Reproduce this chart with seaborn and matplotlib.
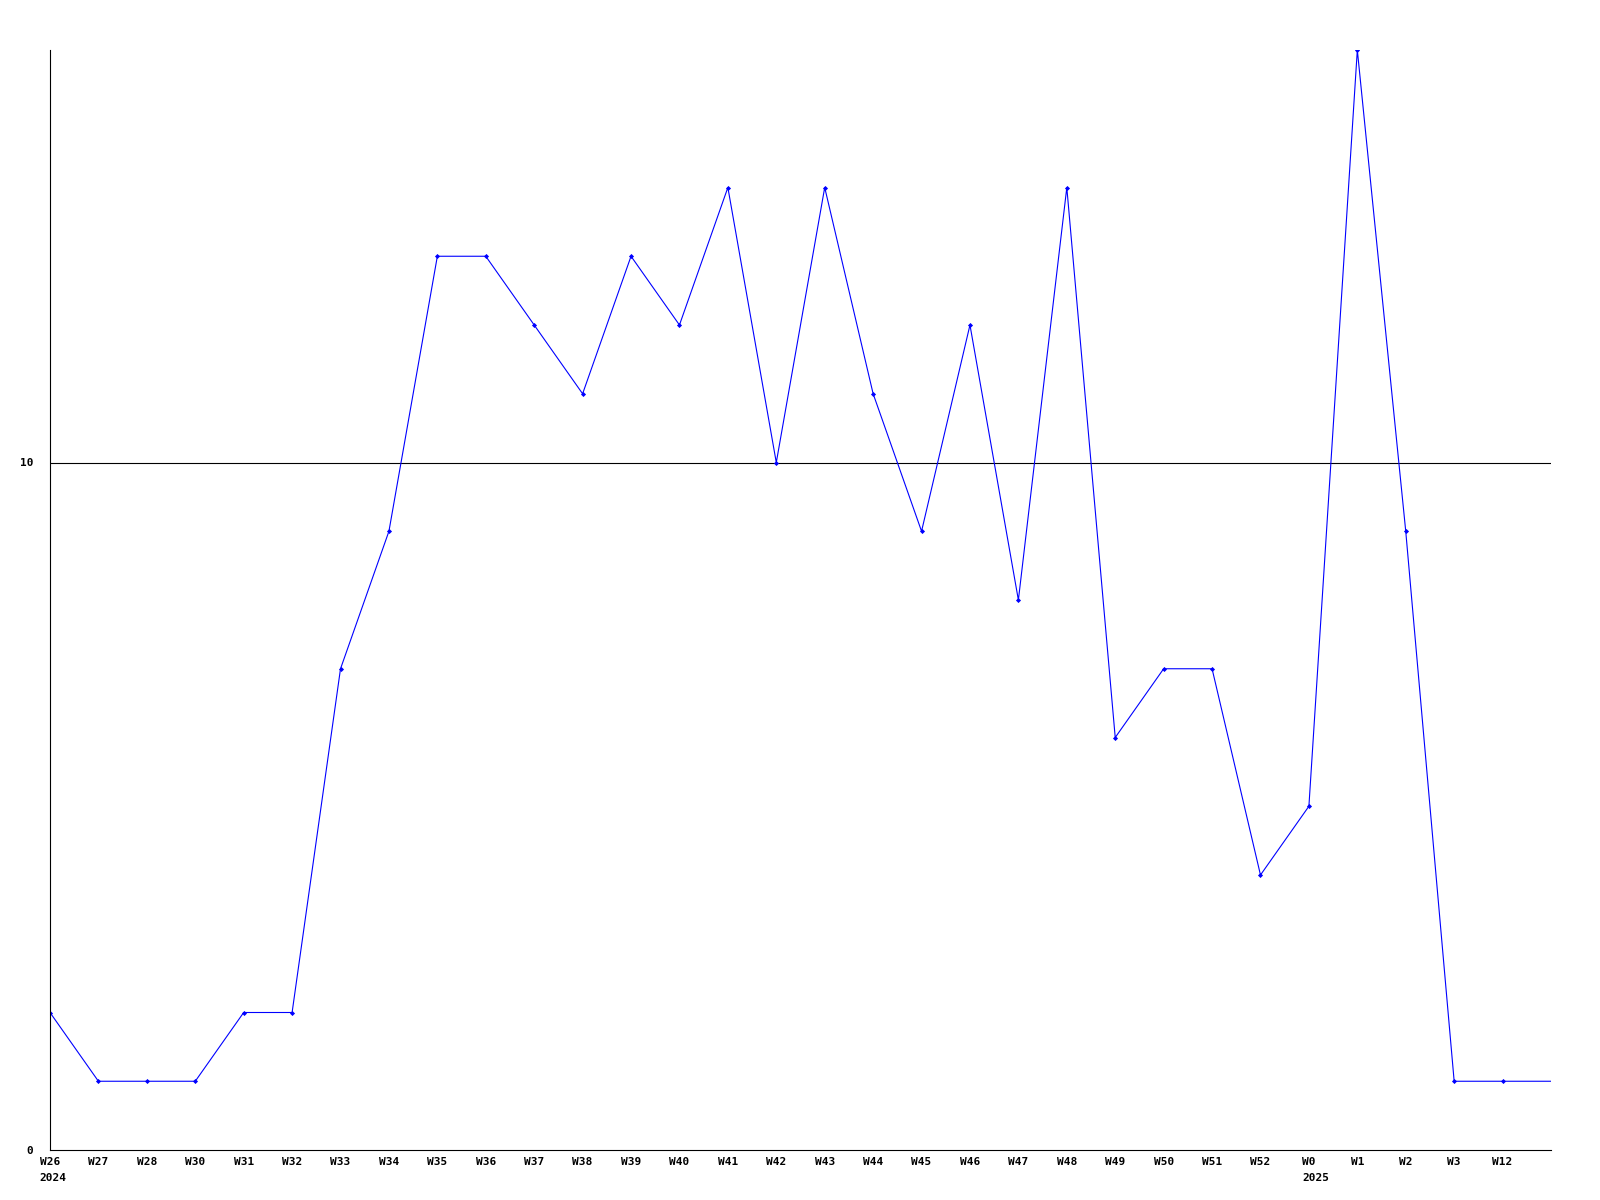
import numpy as np
import seaborn as sns
import matplotlib.pyplot as plt

# weekly values
weeks = ["W26", "W27", "W28", "W30", "W31", "W32", "W33", "W34", "W35", "W36",
         "W37", "W38", "W39", "W40", "W41", "W42", "W43", "W44", "W45", "W46",
         "W47", "W48", "W49", "W50", "W51", "W52", "W0", "W1", "W2", "W3", "W12"]
years = {0: "2024", 26: "2025"}
counts = [2, 1, 1, 1, 2, 2, 7, 9, 13, 13,
          12, 11, 13, 12, 14, 10, 14, 11, 9, 12,
          8, 14, 6, 7, 7, 4, 5, 16, 9, 1, 1]
# the line runs on to the right edge at the last value
tail_value = 1

sns.set_style("white")
plt.rcParams["font.family"] = ["DejaVu Sans Mono", "DejaVu Sans"]
plt.rcParams["text.color"] = "black"
plt.rcParams["xtick.color"] = "black"
plt.rcParams["ytick.color"] = "black"

fig, ax = plt.subplots(figsize=(16, 12), dpi=100)
fig.subplots_adjust(left=50 / 1600, right=1551 / 1600, top=1 - 50 / 1200, bottom=1 - 1150 / 1200)

xs = list(range(len(counts))) + [len(counts)]
ys = counts + [tail_value]
sns.lineplot(x=xs, y=ys, ax=ax, color="#0000ff", linewidth=0.8,
             marker="D", markersize=2.6, markeredgewidth=0,
             markevery=list(range(len(counts))))

ax.axhline(10, color="black", linewidth=0.8, zorder=0)

ax.set_xlim(0, len(counts))
ax.set_ylim(0, 16)
ax.set_yticks([0, 10])
ax.set_yticklabels(["0", "10"], fontsize=8, fontweight="bold")
ax.set_xticks(range(len(weeks)))
ax.set_xticklabels(weeks, fontsize=8, fontweight="bold")
ax.tick_params(axis="both", length=0)
ax.tick_params(axis="x", pad=5)
ax.tick_params(axis="y", pad=12)

# year labels under the first week of each year, left-aligned with the week label
for i, yr in years.items():
    half = len(weeks[i]) * 2.45
    ax.annotate(yr, xy=(i, 0), xycoords=("data", "axes fraction"),
                xytext=(-half, -16.5), textcoords="offset points",
                ha="left", va="top", fontsize=8, fontweight="bold",
                annotation_clip=False)

for side in ["top", "right"]:
    ax.spines[side].set_visible(False)
for side in ["left", "bottom"]:
    ax.spines[side].set_color("black")
    ax.spines[side].set_linewidth(0.8)

fig.savefig("out.png", dpi=100)
